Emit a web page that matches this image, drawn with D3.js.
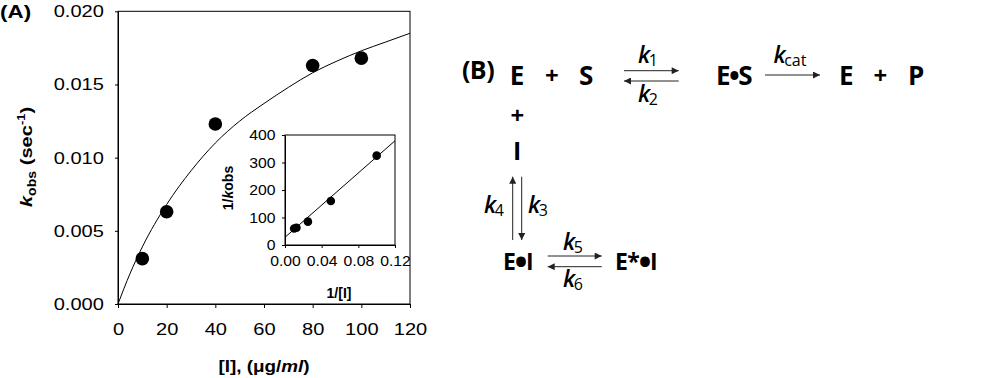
<!DOCTYPE html>
<html><head><meta charset="utf-8">
<script src="https://cdn.jsdelivr.net/npm/d3@7"></script>
<style>body{margin:0;background:#fff}svg{display:block}</style>
</head><body><svg id="c" width="1000" height="378"></svg>
<script>
// ---- data ----
const concentrations = [10, 20, 40, 80, 100];
const kobsValues = [0.0031, 0.0063, 0.0123, 0.0163, 0.0168];
const fitX = [0, 5, 10, 20, 30, 40, 50, 60, 70, 80, 90, 100, 110, 120];
const fitY = [0, 0.0021, 0.0039, 0.0068, 0.0091, 0.0110, 0.0125, 0.0137, 0.0148, 0.0158, 0.0166, 0.0173, 0.0179, 0.0185];
const xTicks = [0, 20, 40, 60, 80, 100, 120];
const yTicks = [0.000, 0.005, 0.010, 0.015, 0.020];
const invConc = [0.01, 0.0125, 0.025, 0.05, 0.1];
const invKobs = [60, 63, 85, 160, 325];
const insetLineX = [0, 0.12];
const insetLineY = [28, 379];
const insetXTicks = [0, 0.04, 0.08, 0.12];
const insetYTicks = [0, 100, 200, 300, 400];

const svg = d3.select("#c");
const SX = 1.18; // horizontal stretch of the reference text

// ---- main plot ----
const x = d3.scaleLinear().domain([0, 120]).range([118, 410]);
const y = d3.scaleLinear().domain([0, 0.02]).range([304, 11.3]);
const A = svg.append("g");

A.append("rect").attr("x", x(0)).attr("y", y(0.02)).attr("width", x(120) - x(0)).attr("height", y(0) - y(0.02))
  .attr("fill", "none").attr("stroke", "#000").attr("stroke-width", 1);

const ax = A.append("g").attr("transform", `translate(0,${y(0)})`)
  .call(d3.axisBottom(x).tickValues(xTicks).tickSize(4).tickSizeOuter(0).tickPadding(15).tickFormat(d3.format("d")));
const ay = A.append("g").attr("transform", `translate(${x(0)},0)`)
  .call(d3.axisLeft(y).tickValues(yTicks).tickSize(3).tickSizeOuter(0).tickPadding(9).tickFormat(d3.format(".3f")));
[ax, ay].forEach(g => {
  g.selectAll("text").attr("font-family", "Liberation Sans, Arial, sans-serif").attr("font-size", 17).attr("fill", "#000")
    .attr("transform", `scale(${SX},1)`);
  g.selectAll("line,path").attr("stroke", "#000");
});

A.append("path").datum(fitX.map((v, i) => [v, fitY[i]]))
  .attr("d", d3.line().x(d => x(d[0])).y(d => y(d[1])).curve(d3.curveMonotoneX))
  .attr("fill", "none").attr("stroke", "#000").attr("stroke-width", 1);

A.selectAll("circle.pt").data(concentrations).join("circle").attr("class", "pt")
  .attr("cx", (d) => x(d)).attr("cy", (d, i) => y(kobsValues[i])).attr("r", 6.8).attr("fill", "#000");

// axis titles
const xt = A.append("text").attr("transform", `translate(264,372) scale(${SX},1)`).attr("text-anchor", "middle")
  .attr("font-family", "Liberation Sans, Arial, sans-serif").attr("font-weight", "bold").attr("font-size", 16);
xt.append("tspan").text("[I], (\u03BCg/");
xt.append("tspan").attr("font-style", "italic").text("ml");
xt.append("tspan").text(")");

const yt = A.append("text").attr("transform", `translate(32,157) rotate(-90) scale(${SX},1)`).attr("text-anchor", "middle")
  .attr("font-family", "Liberation Sans, Arial, sans-serif").attr("font-weight", "bold").attr("font-size", 17);
yt.append("tspan").attr("font-style", "italic").text("k");
yt.append("tspan").attr("font-size", 12).attr("dy", 4).text("obs");
yt.append("tspan").attr("dy", -4).text(" (sec");
yt.append("tspan").attr("font-size", 11).attr("dy", -7).text("-1");
yt.append("tspan").attr("dy", 7).text(")");

A.append("text").attr("transform", `translate(0,18) scale(${SX},1)`)
  .attr("font-family", "Liberation Sans, Arial, sans-serif").attr("font-weight", "bold").attr("font-size", 19).text("(A)");

// ---- inset ----
const ix = d3.scaleLinear().domain([0, 0.12]).range([285, 395]);
const iy = d3.scaleLinear().domain([0, 400]).range([245, 135]);
const I = svg.append("g");
I.append("rect").attr("x", ix(0)).attr("y", iy(400)).attr("width", ix(0.12) - ix(0)).attr("height", iy(0) - iy(400))
  .attr("fill", "#fff").attr("stroke", "#000").attr("stroke-width", 1);
const iax = I.append("g").attr("transform", `translate(0,${iy(0)})`)
  .call(d3.axisBottom(ix).tickValues(insetXTicks).tickSize(3).tickSizeOuter(0).tickPadding(7).tickFormat(d3.format(".2f")));
const iay = I.append("g").attr("transform", `translate(${ix(0)},0)`)
  .call(d3.axisLeft(iy).tickValues(insetYTicks).tickSize(3).tickSizeOuter(0).tickPadding(6).tickFormat(d3.format("d")));
[iax, iay].forEach(g => {
  g.selectAll("text").attr("font-family", "Liberation Sans, Arial, sans-serif").attr("font-size", 15).attr("fill", "#000")
    .attr("transform", `scale(1.05,1)`);
  g.selectAll("line,path").attr("stroke", "#000");
});
I.append("line").attr("x1", ix(insetLineX[0])).attr("y1", iy(insetLineY[0]))
  .attr("x2", ix(insetLineX[1])).attr("y2", iy(insetLineY[1])).attr("stroke", "#000").attr("stroke-width", 1);
I.selectAll("circle.ip").data(invConc).join("circle").attr("class", "ip")
  .attr("cx", d => ix(d)).attr("cy", (d, i) => iy(invKobs[i])).attr("r", 4.3).attr("fill", "#000");
I.append("text").attr("x", 339).attr("y", 298).attr("text-anchor", "middle")
  .attr("font-family", "Liberation Sans, Arial, sans-serif").attr("font-weight", "bold").attr("font-size", 14).text("1/[I]");
const iyt = I.append("text").attr("transform", "translate(233,188) rotate(-90)").attr("text-anchor", "middle")
  .attr("font-family", "Liberation Sans, Arial, sans-serif").attr("font-weight", "bold").attr("font-size", 14);
iyt.append("tspan").text("1/");
iyt.append("tspan").attr("font-style", "italic").text("k");
iyt.append("tspan").text("obs");

// ---- panel B (scheme) ----
const B = svg.append("g").attr("font-family", "'Open Sans', 'Noto Sans', sans-serif").attr("fill", "#000");
const species = [
  {t: "(B)", x: 478, y: 79, s: 25},
  {t: "E", x: 516.7, y: 85, s: 26},
  {t: "+", x: 551.7, y: 84, s: 24},
  {t: "S", x: 586, y: 85, s: 26},
  {t: "E\u2022S", x: 734, y: 85, s: 26},
  {t: "E", x: 846, y: 85, s: 26},
  {t: "+", x: 880, y: 84, s: 24},
  {t: "P", x: 916, y: 85, s: 26},
  {t: "+", x: 517, y: 124, s: 24},
  {t: "I", x: 517, y: 160, s: 25},
  {t: "E\u2022I", x: 518, y: 270, s: 23, big: true},
  {t: "E*\u2022I", x: 636, y: 270, s: 23, big: true}
];
species.forEach(d => {
  const t = B.append("text").attr("x", d.x).attr("y", d.y).attr("text-anchor", "middle")
    .attr("font-size", d.s).attr("font-weight", "bold").attr("letter-spacing", -0.5);
  const m = d.t.match(/^(.*?)(\u2022)(.*)$/);
  if (m) {
    const f = d.big ? 1.5 : 1.1;
    const shift = (f - 1) * 0.38 * d.s;
    t.append("tspan").text(m[1]);
    t.append("tspan").attr("font-size", d.s * f).attr("dy", shift).attr("dx", -1).text(m[2]);
    t.append("tspan").attr("dy", -shift).attr("dx", -1).text(m[3]);
  } else t.text(d.t);
});

const rates = [
  {sub: "1", x: 648, y: 63},
  {sub: "2", x: 648, y: 101.7},
  {sub: "cat", x: 790, y: 63},
  {sub: "4", x: 494, y: 213},
  {sub: "3", x: 538, y: 213},
  {sub: "5", x: 573, y: 250},
  {sub: "6", x: 573, y: 286.7}
];
rates.forEach(d => {
  const t = B.append("text").attr("x", d.x).attr("y", d.y).attr("text-anchor", "middle")
    .attr("font-size", 23).attr("font-style", "italic").attr("font-weight", 600);
  t.append("tspan").text("k");
  t.append("tspan").attr("font-size", 16).attr("font-style", "normal").attr("font-weight", 400)
    .attr("dy", 3).attr("dx", -1.5).text(d.sub);
});

const defs = svg.append("defs");
defs.append("marker").attr("id", "ah").attr("viewBox", "0 0 10 10").attr("refX", 10).attr("refY", 5)
  .attr("markerWidth", 8).attr("markerHeight", 7).attr("markerUnits", "userSpaceOnUse").attr("orient", "auto")
  .append("path").attr("d", "M0,0 L10,5 L0,10 Z").attr("fill", "#222");
const arrows = [
  [624, 70.7, 678.7, 70.7],
  [678.7, 81, 624, 81],
  [765, 75, 820, 75],
  [512.7, 240, 512.7, 176.7],
  [521.7, 176.7, 521.7, 240],
  [547.7, 256, 601.7, 256],
  [601.7, 266.7, 547.7, 266.7]
];
B.selectAll("line.ar").data(arrows).join("line").attr("class", "ar")
  .attr("x1", d => d[0]).attr("y1", d => d[1]).attr("x2", d => d[2]).attr("y2", d => d[3])
  .attr("stroke", "#222").attr("stroke-width", 1).attr("marker-end", "url(#ah)");
</script></body></html>
